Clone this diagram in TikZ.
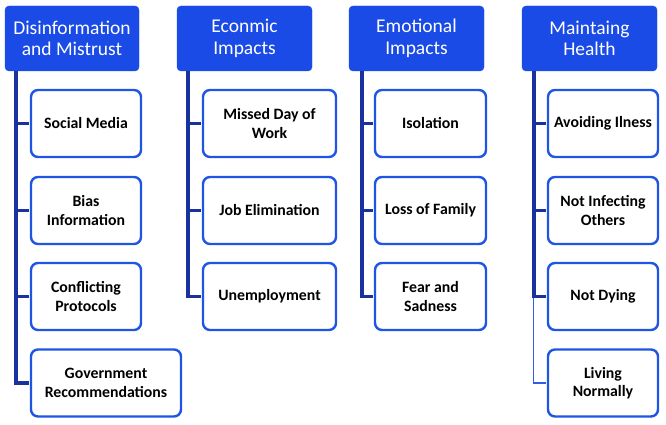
\documentclass[tikz,border=0pt]{standalone}
\usepackage{fontspec}
\setmainfont{Carlito}
\definecolor{headblue}{HTML}{1A4BE6}
\definecolor{boxblue}{HTML}{1F55E5}
\definecolor{navy}{HTML}{1A329E}
\definecolor{thinblue}{HTML}{2F5CE8}
\begin{document}
\begin{tikzpicture}[x=1pt,y=-1pt,
  head/.style={draw=headblue,fill=headblue,rounded corners=4pt,minimum height=65pt,inner sep=0pt,
    text=white,align=center,font=\fontsize{19.5}{21.5}\selectfont},
  child/.style={draw=boxblue,line width=2.4pt,fill=white,rounded corners=7pt,minimum height=67pt,inner sep=0pt,
    text=black,align=center,font=\fontsize{15.8}{18.5}\selectfont\bfseries},
  conn/.style={draw=navy,line width=3.4pt},
  thin/.style={draw=thinblue,line width=1.2pt}]
\useasboundingbox (0,0) rectangle (666,425);
% headers
\node[head,minimum width=134pt] (h1) at (72,38.5) {Disinformation\\and Mistrust};
\node[head,minimum width=135pt] (h2) at (244.5,38.5) {Econmic\\Impacts};
\node[head,minimum width=135pt] (h3) at (416.5,38.5) {Emotional\\Impacts};
\node[head,minimum width=135pt] (h4) at (589.5,38.5) {Maintaing\\Health};
% column 1 children
\node[child,minimum width=110pt] (c11) at (86,123.5) {Social Media};
\node[child,minimum width=110pt] (c12) at (86,210.5) {Bias\\Information};
\node[child,minimum width=110pt] (c13) at (86,296.5) {Conflicting\\Protocols};
\node[child,minimum width=150pt] (c14) at (106,383) {Government\\Recommendations};
% column 2
\node[child,minimum width=133pt] (c21) at (269.5,123.5) {Missed Day of\\Work};
\node[child,minimum width=133pt] (c22) at (269.5,210.5) {Job Elimination};
\node[child,minimum width=133pt] (c23) at (269.5,296.5) {Unemployment};
% column 3
\node[child,minimum width=111pt] (c31) at (430.5,123.5) {Isolation};
\node[child,minimum width=111pt] (c32) at (430.5,210.5) {Loss of Family};
\node[child,minimum width=111pt] (c33) at (430.5,296.5) {Fear and\\Sadness};
% column 4
\node[child,minimum width=110pt] (c41) at (603,123.5) {Avoiding Ilness};
\node[child,minimum width=110pt] (c42) at (603,210.5) {Not Infecting\\Others};
\node[child,minimum width=110pt] (c43) at (603,296.5) {Not Dying};
\node[child,minimum width=110pt] (c44) at (603,383) {Living\\Normally};
% connectors
\foreach \c in {c11,c12,c13,c14} \draw[conn] ([xshift=11pt]h1.south west) |- ([xshift=-1pt]\c.west);
\foreach \c in {c21,c22,c23} \draw[conn] ([xshift=11pt]h2.south west) |- ([xshift=-1pt]\c.west);
\foreach \c in {c31,c32,c33} \draw[conn] ([xshift=13pt]h3.south west) |- ([xshift=-1pt]\c.west);
\draw[thin] ([xshift=12pt]h4.south west) |- ([xshift=-1pt]c44.west);
\foreach \c in {c41,c42,c43} \draw[conn] ([xshift=12pt]h4.south west) |- ([xshift=-1pt]\c.west);
\end{tikzpicture}
\end{document}
